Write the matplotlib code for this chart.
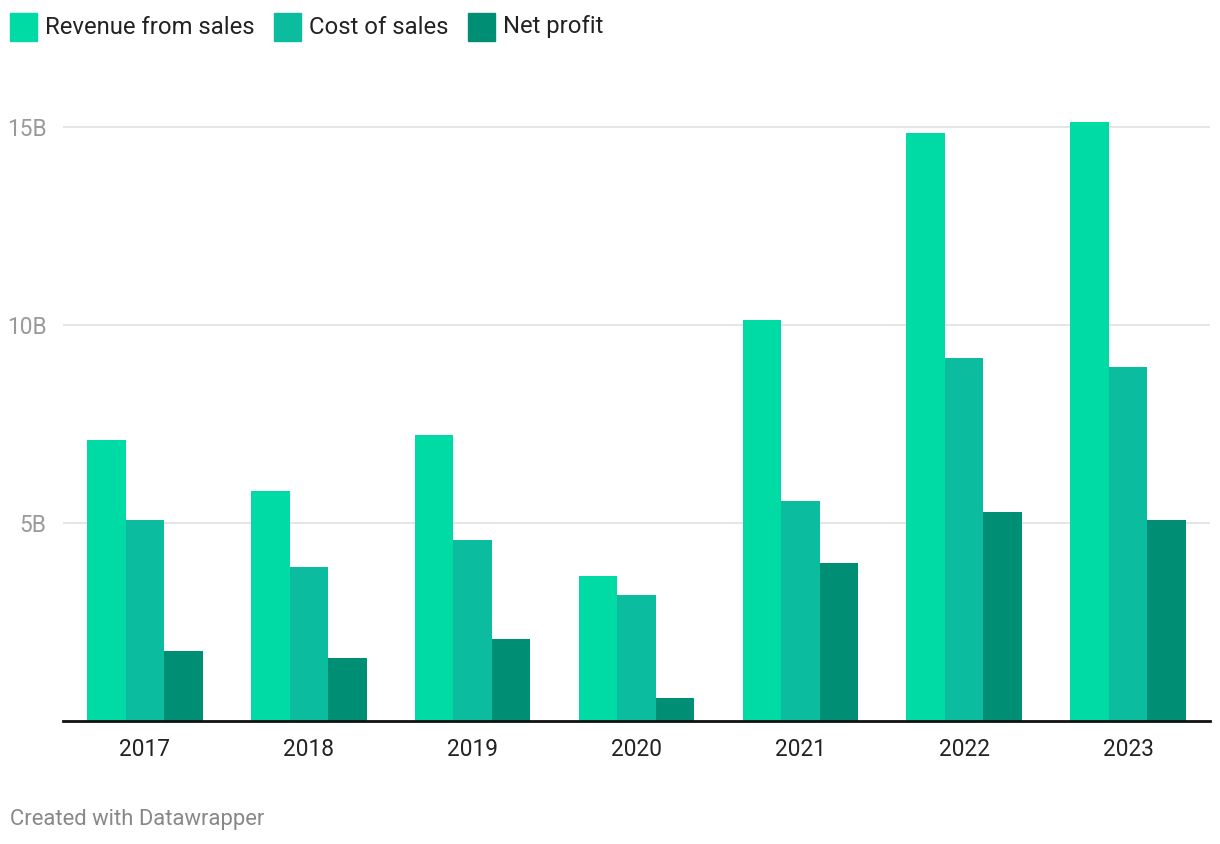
import matplotlib
matplotlib.use('Agg')
import matplotlib.pyplot as plt
import numpy as np
from matplotlib.patches import Rectangle

years = ['2017', '2018', '2019', '2020', '2021', '2022', '2023']
revenue = [7.10, 5.81, 7.22, 3.66, 10.13, 14.85, 15.13]
cost = [5.08, 3.89, 4.57, 3.18, 5.56, 9.17, 8.94]
net_profit = [1.77, 1.59, 2.07, 0.58, 3.99, 5.28, 5.08]
series_names = ['Revenue from sales', 'Cost of sales', 'Net profit']
colors = ['#00dba6', '#0bbc9f', '#008f75']
y_ticks = [5, 10, 15]
y_labels = ['5B', '10B', '15B']

plt.rcParams['font.family'] = ['Roboto', 'DejaVu Sans']

W, H = 1220, 844
fig = plt.figure(figsize=(W / 100, H / 100), dpi=100)
ax = fig.add_axes([63 / W, 1 - 721 / H, (1210 - 63) / W, (721 - 115) / H])

x = np.arange(len(years))
width = 0.235
for i, (vals, c) in enumerate(zip([revenue, cost, net_profit], colors)):
    ax.bar(x + (i - 1) * width, vals, width, color=c, zorder=3, linewidth=0)

ax.set_xlim(-0.5, len(years) - 0.5)
ax.set_ylim(0, 15.3)
ax.set_yticks(y_ticks)
ax.set_yticklabels(y_labels, color='#9a9a9a', fontsize=16.3)
ax.set_xticks(x)
ax.set_xticklabels(years, color='#222222', fontsize=16.3)
ax.tick_params(axis='both', length=0)
ax.tick_params(axis='y', pad=12)
ax.tick_params(axis='x', pad=12)
ax.grid(axis='y', color='#e3e3e3', linewidth=1.3, zorder=0)
for s in ['top', 'right', 'left']:
    ax.spines[s].set_visible(False)
ax.spines['bottom'].set_color('#111111')
ax.spines['bottom'].set_linewidth(2)
ax.spines['bottom'].set_zorder(4)

# legend across the top
legend_x = [10, 274, 468]
for lx, name, c in zip(legend_x, series_names, colors):
    fig.patches.append(Rectangle((lx / W, 1 - 41 / H), 27 / W, 28 / H,
                                 transform=fig.transFigure, color=c))
    fig.text((lx + 35) / W, 1 - 27 / H, name, fontsize=17.2, color='#222222',
             va='center', ha='left')

fig.text(10 / W, 1 - 819 / H, 'Created with Datawrapper', fontsize=15.8,
         color='#888888', va='center', ha='left')

plt.savefig('out.png', dpi=100)
